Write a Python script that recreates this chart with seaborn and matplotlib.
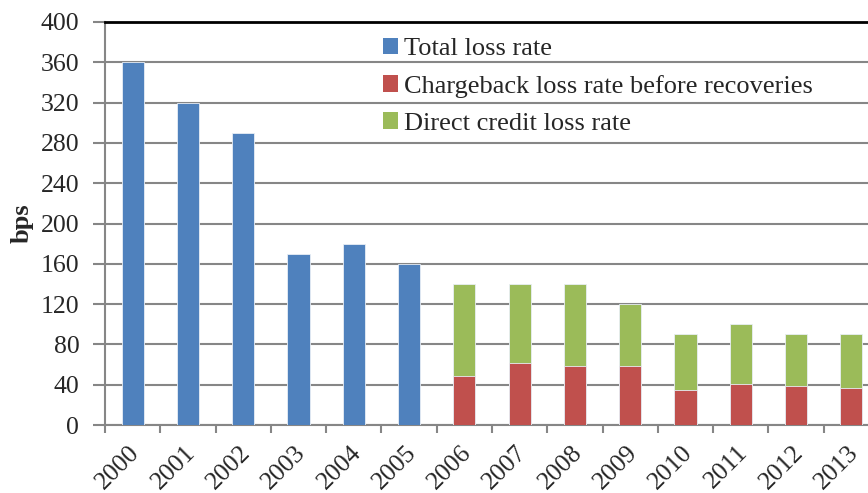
import numpy as np
import pandas as pd
import matplotlib
matplotlib.use("Agg")
import matplotlib.pyplot as plt
import seaborn as sns
from matplotlib.patches import Patch

years = ["2000", "2001", "2002", "2003", "2004", "2005", "2006",
         "2007", "2008", "2009", "2010", "2011", "2012", "2013"]
total_years = ["2000", "2001", "2002", "2003", "2004", "2005"]
total_loss = [360, 320, 290, 170, 180, 160]
split_years = ["2006", "2007", "2008", "2009", "2010", "2011", "2012", "2013"]
chargeback = [49, 62, 59, 59, 35, 41, 39, 37]
direct_credit = [91, 78, 81, 61, 55, 59, 51, 53]
yticks = [0, 40, 80, 120, 160, 200, 240, 280, 320, 360, 400]

blue, red, green = "#4F81BD", "#C0504D", "#9BBB59"
grid_c = "#868686"

sns.set_theme(style="white")
plt.rcParams["font.family"] = ["Liberation Serif", "DejaVu Serif"]

fig = plt.figure(figsize=(8.68, 4.93), dpi=100)
ax = fig.add_axes([105 / 868, (493 - 425) / 493, 774 / 868, (425 - 22) / 493])

df_total = pd.DataFrame({"year": total_years, "v": total_loss})
df_split = pd.DataFrame({"year": split_years,
                         "cb": chargeback,
                         "tot": np.array(chargeback) + np.array(direct_credit)})

kw = dict(order=years, width=0.4, edgecolor="#e8eef5", linewidth=0.6, ax=ax, zorder=3)
sns.barplot(data=df_total, x="year", y="v", color=blue, saturation=1, **kw)
sns.barplot(data=df_split, x="year", y="tot", color=green, saturation=1, **kw)
sns.barplot(data=df_split, x="year", y="cb", color=red, saturation=1, **kw)

ax.set_xlim(-0.5, 13.5)
ax.set_ylim(0, 400)
ax.set_yticks(yticks)
ax.set_yticklabels([str(t) for t in yticks], fontsize=18.5)
ax.yaxis.grid(True, color=grid_c, linewidth=1.5, zorder=0)
ax.set_axisbelow(True)

ax.set_xticks(range(len(years)))
ax.set_xticklabels(years, fontsize=18.5, rotation=45, ha="right",
                   rotation_mode="anchor")
ax.set_xticks(np.arange(-0.5, 14, 1.0), minor=True)
ax.tick_params(axis="x", which="major", length=0, pad=12)
ax.tick_params(axis="x", which="minor", length=6, width=1.5, color=grid_c, direction="out", bottom=True)
ax.tick_params(axis="y", length=9, width=1.5, color=grid_c, direction="out", left=True, pad=9.5)
for lbl in ax.get_xticklabels():
    lbl.set_transform(lbl.get_transform() + matplotlib.transforms.ScaledTranslation(-4 / 100, 0, fig.dpi_scale_trans))

ax.set_xlabel("")
ax.set_ylabel("bps", fontsize=19, fontweight="bold", labelpad=5)

for s in ["left", "bottom"]:
    ax.spines[s].set_color(grid_c)
    ax.spines[s].set_linewidth(1.5)
ax.spines["top"].set_color("black")
ax.spines["top"].set_linewidth(2)
ax.spines["right"].set_visible(False)

handles = [Patch(facecolor=blue, edgecolor="none"),
           Patch(facecolor=red, edgecolor="none"),
           Patch(facecolor=green, edgecolor="none")]
labels = ["Total loss rate", "Chargeback loss rate before recoveries", "Direct credit loss rate"]
fig.legend(handles, labels, loc="upper left", bbox_to_anchor=(372 / 868, 1 - 27 / 493),
           frameon=False, fontsize=19, handlelength=0.6, handleheight=0.6,
           handletextpad=0.2, labelspacing=0.55, borderaxespad=0)

fig.savefig("out.png", dpi=100)
